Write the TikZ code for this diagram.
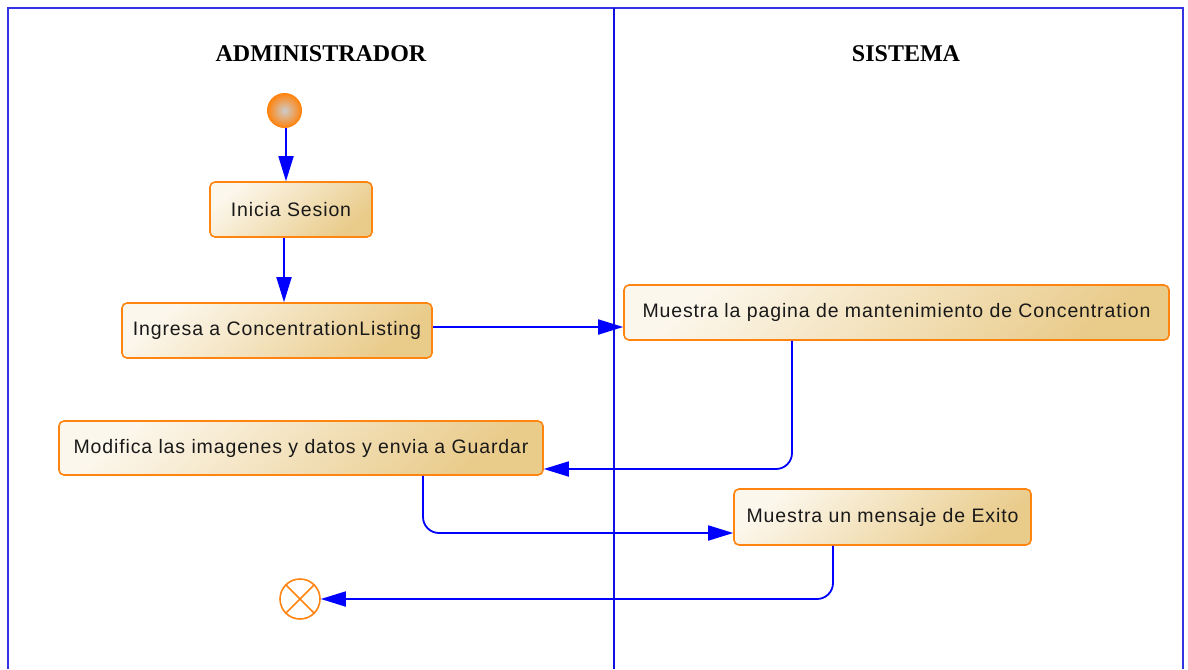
\documentclass[tikz,border=0pt]{standalone}
\usepackage{fontspec}
\setmainfont{Liberation Serif}
\newfontfamily\boxfont[LetterSpace=4.5]{Liberation Sans}
\usetikzlibrary{arrows.meta,calc}
\definecolor{boxedge}{HTML}{FF8410}
\definecolor{boxlight}{HTML}{FCF7EC}
\definecolor{boxdark}{HTML}{E9CB8A}
\definecolor{flow}{HTML}{0000FF}
\definecolor{lane}{HTML}{1010E0}
\tikzset{
  act/.style={draw=boxedge, line width=1.6pt, rounded corners=5pt,
    top color=boxlight, bottom color=boxdark, shading angle=40,
    font=\boxfont\fontsize{19.5}{23}\selectfont, text=black!90, inner sep=0pt},
  flowline/.style={draw=flow, line width=1.8pt, rounded corners=16pt,
    -{Triangle[length=25pt,width=15pt]}},
  lanehead/.style={font=\bfseries\fontsize{24}{28}\selectfont, text=black},
  startnode/.style={circle, draw=boxedge, line width=1pt, inner color=gray!40, outer color=boxedge, minimum size=34pt, inner sep=0pt},
  endnode/.style={circle, draw=boxedge, line width=1.6pt, minimum size=40pt, inner sep=0pt},
}
\begin{document}
\begin{tikzpicture}[x=1pt,y=-1pt]
\useasboundingbox (0,0) rectangle (1188,669);
% swimlane frame
\draw[lane!85, line width=1.2pt] (8,669) -- (8,8) -- (1183,8) -- (1183,669);
\draw[lane, line width=1.4pt] (614,8) -- (614,669);
\node[lanehead] (h1) at (321,54) {ADMINISTRADOR};
\node[lanehead] (h2) at (906,54) {SISTEMA};
% nodes
\node[startnode] (start) at (284.5,110.5) {};
\node[act, minimum width=162pt, minimum height=55pt] (ini) at (291,209.5) {Inicia Sesion};
\node[act, minimum width=310pt, minimum height=55pt] (ing) at (277,330.5) {Ingresa a ConcentrationListing};
\node[act, minimum width=545pt, minimum height=55pt] (mp) at (896.5,312.5) {Muestra la pagina de mantenimiento de Concentration};
\node[act, minimum width=484pt, minimum height=54pt] (mod) at (301,448) {Modifica las imagenes y datos y envia a Guardar};
\node[act, minimum width=297pt, minimum height=56pt] (ex) at (882.5,517) {Muestra un mensaje de Exito};
\node[endnode] (end) at (300,599) {};
\draw[boxedge, line width=1.6pt] (end.north west) -- (end.south east) (end.north east) -- (end.south west);
% connectors
\coordinate (ingout) at ([yshift=3.5pt]ing.east);
\draw[flowline] ([xshift=1.5pt]start.south) -- ([xshift=-5pt]ini.north);
\draw[flowline] ([xshift=-7pt]ini.south) -- ([xshift=7pt]ing.north);
\draw[flowline] (ingout) -- (mp.west |- ingout);
\draw[flowline] ([xshift=-104.5pt]mp.south) |- ([yshift=-21pt]mod.east);
\draw[flowline] ([xshift=122pt]mod.south) |- ([yshift=-16pt]ex.west);
\draw[flowline] ([xshift=-49.5pt]ex.south) |- (end.east);
\end{tikzpicture}
\end{document}
